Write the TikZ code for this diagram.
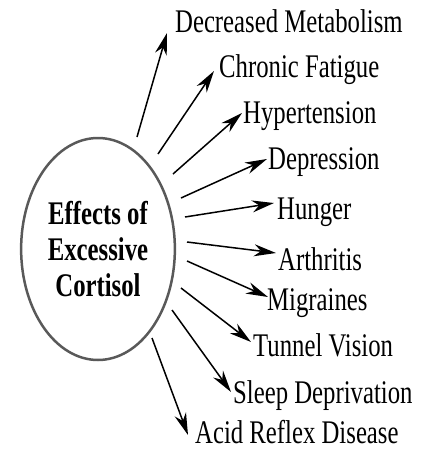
\documentclass[tikz,border=0pt]{standalone}
\usepackage{fontspec}
\setmainfont{Liberation Serif}
\usetikzlibrary{arrows.meta,shapes.geometric}

\begin{document}
\begin{tikzpicture}[x=1pt, y=1pt,
    effect/.style={anchor=base west, inner sep=0pt, xscale=0.75, transform shape, font=\fontsize{33}{36}\selectfont},
    core/.style={draw=black!65, line width=2.5pt, ellipse, xscale=0.75, transform shape, minimum width=205pt, minimum height=222pt, inner sep=0pt, align=center, font=\fontsize{33}{36}\selectfont\bfseries},
    arr/.style={-{Stealth[length=22pt, width=12pt, inset=7pt]}, line width=1.5pt}
]
\useasboundingbox (0,0) rectangle (433,-453);
\node[core] (cortisol) at (98,-249) {Effects of\\Excessive\\Cortisol};

\node[effect] (metab) at (175,-32) {Decreased Metabolism};
\node[effect] (fatigue) at (219,-77) {Chronic Fatigue};
\node[effect] (hyper) at (243,-123) {Hypertension};
\node[effect] (depr) at (268,-169) {Depression};
\node[effect] (hunger) at (277,-219) {Hunger};
\node[effect] (arthr) at (278,-270) {Arthritis};
\node[effect] (migr) at (267,-310) {Migraines};
\node[effect] (tunnel) at (253,-356) {Tunnel Vision};
\node[effect] (sleep) at (233,-403) {Sleep Deprivation};
\node[effect] (acid) at (195,-443) {Acid Reflex Disease};

\coordinate (t1) at (137,-137);
\coordinate (t2) at (158,-154);
\coordinate (t3) at (173,-174);
\coordinate (t4) at (181,-198);
\coordinate (t5) at (185,-217);
\coordinate (t6) at (187,-242);
\coordinate (t7) at (187,-261);
\coordinate (t8) at (181,-288);
\coordinate (t9) at (172,-310);
\coordinate (t10) at (152,-338);

\draw[arr] (t1) -- ([shift={(-8,-1)}]metab.base west);
\draw[arr] (t2) -- ([shift={(-5,6)}]fatigue.base west);
\draw[arr] (t3) -- ([shift={(-1,10)}]hyper.base west);
\draw[arr] (t4) -- ([shift={(-1,10)}]depr.base west);
\draw[arr] (t5) -- ([shift={(-3,16)}]hunger.base west);
\draw[arr] (t6) -- ([shift={(-2,17)}]arthr.base west);
\draw[arr] (t7) -- ([shift={(1,13)}]migr.base west);
\draw[arr] (t8) -- ([shift={(-2,14)}]tunnel.base west);
\draw[arr] (t9) -- ([shift={(-2,11)}]sleep.base west);
\draw[arr] (t10) -- ([shift={(-7,8)}]acid.base west);
\end{tikzpicture}
\end{document}
